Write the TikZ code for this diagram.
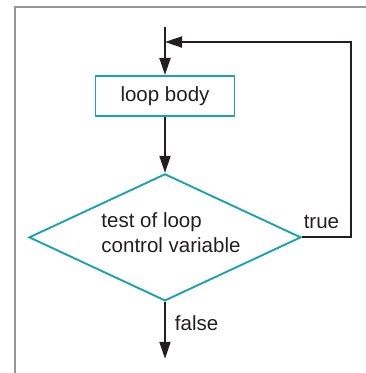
\documentclass[tikz,border=0pt]{standalone}
\usepackage{fontspec}
\setmainfont{Liberation Sans}
\usetikzlibrary{arrows.meta, positioning, shapes.geometric}
\definecolor{flowteal}{HTML}{1AA3AD}
\definecolor{framegray}{HTML}{959595}
\definecolor{ink}{HTML}{231F20}

\begin{document}
\begin{tikzpicture}[
    x=1pt, y=1pt,
    font=\fontsize{20.5pt}{25pt}\selectfont, text=ink,
    bodybox/.style={
        rectangle, draw=flowteal, line width=1.9pt,
        minimum width=139pt, minimum height=40pt, inner sep=0pt
    },
    testbox/.style={
        diamond, draw=flowteal, line width=1.9pt, aspect=2.16,
        minimum width=272pt, minimum height=127pt, inner sep=0pt
    },
    arr/.style={-{Triangle[length=17pt, width=11pt]}, line width=1.9pt, ink},
    lbl/.style={inner sep=3pt},
]
\useasboundingbox (0,0) rectangle (366,373);

% Frame
\draw[framegray, line width=2.8pt] (15,0) -- (15,366) -- (366,366);

% Nodes
\coordinate (start) at (165,346);
\coordinate[below=15pt of start] (join);
\node[bodybox, below=48pt of start] (body) {loop body};
\node[testbox, below=56pt of body,
      label={[align=left, xshift=6pt, yshift=5pt]center:test of loop\\control variable}] (test) {};
\coordinate[below=57pt of test] (exit);

% Entry arrow
\draw[arr] (start) -- (body);

% Body -> test
\draw[arr] (body) -- (test);

% True branch back to the top
\draw[arr] (test.east) -- node[lbl, above=5pt, xshift=-5pt] {true} ++(49pt,0) |- (join);

% False branch
\draw[arr] (test) -- node[lbl, right=6pt, pos=0.38] {false} (exit);

\end{tikzpicture}
\end{document}
